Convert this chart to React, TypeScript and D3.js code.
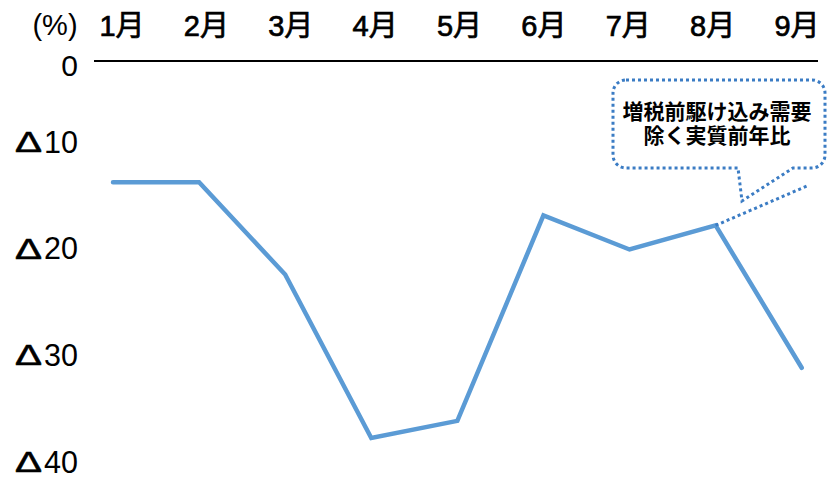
import * as d3 from "d3";

const months = ["1月", "2月", "3月", "4月", "5月", "6月", "7月", "8月", "9月"];
const values = [-12.1, -12.1, -21.3, -37.6, -35.9, -15.4, -18.8, -16.4, -30.6];
const tickValues = [-10, -20, -30, -40];
const calloutLines = ["増税前駆け込み需要", "除く実質前年比"];

const W = 827;
const H = 479;
const font = "'Liberation Sans', Arial, 'Noto Sans CJK JP', sans-serif";
const blue = "#5B9BD5";
const dotBlue = "#3B7CC4";

export default function App() {
  // data scales
  const x = d3.scalePoint<string>().domain(months).range([113, 801.7]);
  const y = d3.scaleLinear().domain([0, -40]).range([61, 462]);
  // the labels in the source sit on their own grid
  const labelX = d3.scalePoint<string>().domain(months).range([122, 797]);
  const labelY = d3.scaleLinear().domain([-10, -40]).range([142, 462]);

  const path = d3
    .line<number>()
    .x((_, i) => x(months[i]) as number)
    .y((d) => y(d))(values);

  const px = x("8月") as number;
  const py = y(values[7]);

  // callout box
  const bx = 613, by = 80, bw = 212, bh = 88, r = 13;
  const tailL = 738, tailR = 793, tipX = 742, tipY = 201;
  const box = d3.path();
  box.moveTo(bx + r, by);
  box.lineTo(bx + bw - r, by);
  box.arcTo(bx + bw, by, bx + bw, by + r, r);
  box.lineTo(bx + bw, by + bh - r);
  box.arcTo(bx + bw, by + bh, bx + bw - r, by + bh, r);
  box.lineTo(tailR, by + bh);
  box.lineTo(tipX, tipY);
  box.lineTo(tailL, by + bh);
  box.lineTo(bx + r, by + bh);
  box.arcTo(bx, by + bh, bx, by + bh - r, r);
  box.lineTo(bx, by + r);
  box.arcTo(bx, by, bx + r, by, r);
  box.closePath();

  return (
    <svg width={W} height={H} style={{ position: "absolute", left: 0, top: 0 }}>
      <rect width={W} height={H} fill="#fff" />
      <text x={55} y={35} textAnchor="middle" fontSize={29} fontFamily={font}>
        (%)
      </text>
      {months.map((m) => (
        <text
          key={m}
          x={labelX(m)}
          y={36}
          textAnchor="middle"
          fontSize={29}
          fontFamily={font}
          stroke="#000"
          strokeWidth={0.7}
        >
          {m}
        </text>
      ))}
      <line x1={94} x2={818} y1={y(0)} y2={y(0)} stroke="#000" strokeWidth={2.2} />
      <text x={78} y={y(0) + 15} textAnchor="end" fontSize={30} fontFamily={font}>
        0
      </text>
      {tickValues.map((t) => (
        <g key={t}>
          <text
            x={15}
            y={labelY(t) + 10}
            fontSize={29}
            fontFamily={font}
            textLength={27}
            lengthAdjust="spacingAndGlyphs"
            stroke="#000"
            strokeWidth={0.6}
          >
            Δ
          </text>
          <text
            x={78}
            y={labelY(t) + 10.5}
            textAnchor="end"
            fontSize={30.5}
            fontFamily={font}
          >
            {Math.abs(t)}
          </text>
        </g>
      ))}
      <path
        d={path ?? ""}
        fill="none"
        stroke={blue}
        strokeWidth={4.5}
        strokeLinecap="round"
      />
      <line
        x1={px}
        y1={py}
        x2={807}
        y2={186}
        stroke={dotBlue}
        strokeWidth={3}
        strokeDasharray="3 3"
      />
      <path
        d={box.toString()}
        fill="#fff"
        stroke={dotBlue}
        strokeWidth={3}
        strokeDasharray="3 3"
      />
      {calloutLines.map((l, i) => (
        <text
          key={l}
          x={bx + bw / 2 - 2}
          y={119 + i * 24}
          textAnchor="middle"
          fontSize={21}
          fontWeight="bold"
          fontFamily="'Noto Sans CJK JP', sans-serif"
        >
          {l}
        </text>
      ))}
    </svg>
  );
}
